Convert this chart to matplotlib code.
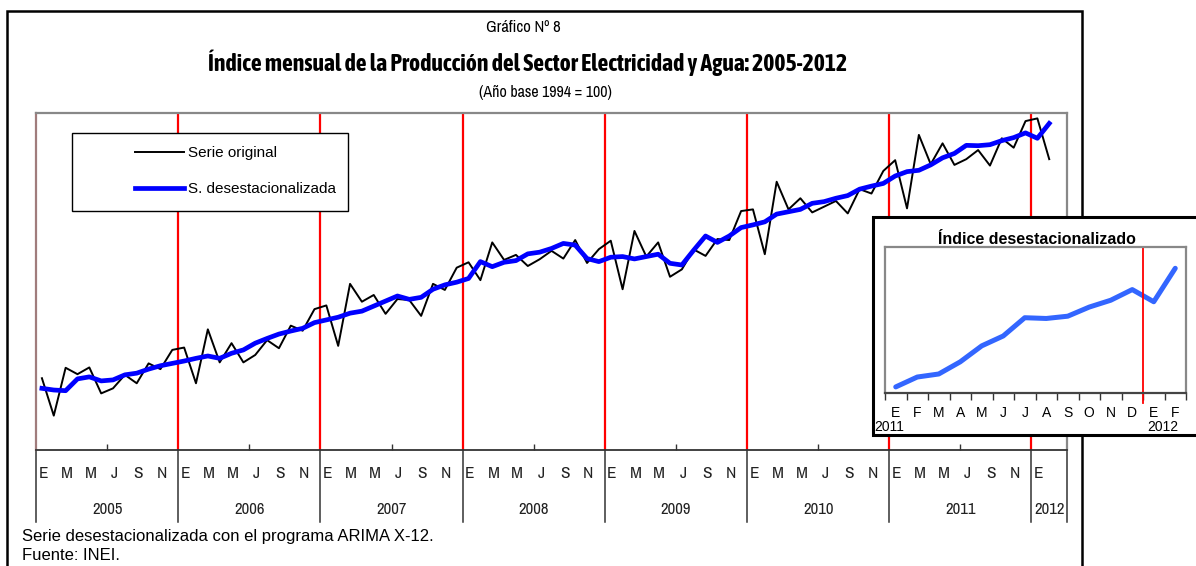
import matplotlib
matplotlib.use('Agg')
import matplotlib.pyplot as plt
from matplotlib.patches import Rectangle
from matplotlib.lines import Line2D
from matplotlib import font_manager
import matplotlib.transforms as mtransforms
import numpy as np

# indice mensual 2005-01 .. 2012-02
original = [151.3, 140.2, 154.4, 152.5, 154.5, 146.8, 148.3, 152.3, 149.8, 155.7, 154.0, 159.7,
            160.4, 149.8, 165.8, 156.0, 161.7, 156.0, 158.2, 162.6, 160.2, 166.9, 165.4, 171.8,
            172.9, 160.9, 179.3, 174.0, 176.0, 170.4, 174.8, 174.5, 169.8, 179.3, 177.5, 184.1,
            185.7, 180.4, 191.6, 186.4, 187.9, 184.6, 186.6, 189.1, 186.8, 192.3, 185.5, 189.6,
            192.1, 177.7, 195.0, 187.4, 191.6, 181.4, 183.6, 189.5, 187.6, 192.6, 192.3, 200.9,
            201.4, 188.1, 209.6, 201.4, 204.7, 200.5, 202.2, 203.9, 200.2, 207.4, 206.1, 212.8,
            216.0, 201.7, 223.5, 214.8, 221.0, 214.6, 216.3, 219.0, 214.4, 222.5, 219.7, 227.6,
            228.4, 216.3]
desest = [148.3, 147.8, 147.6, 151.1, 151.7, 150.5, 150.8, 152.3, 152.8, 154.0, 155.0, 155.7,
          156.4, 157.2, 157.9, 157.2, 158.7, 159.7, 161.7, 163.1, 164.4, 165.3, 166.1, 167.8,
          168.6, 169.4, 170.6, 171.2, 172.7, 174.2, 175.7, 174.7, 175.3, 177.7, 179.0, 179.8,
          180.9, 185.9, 184.4, 185.7, 186.2, 188.2, 188.7, 189.8, 191.3, 190.8, 186.8, 185.9,
          187.2, 187.4, 186.7, 187.4, 188.1, 185.4, 184.9, 189.3, 193.5, 191.6, 193.5, 196.0,
          196.8, 197.7, 200.0, 200.7, 201.4, 203.2, 203.7, 204.7, 205.5, 207.4, 208.3, 209.1,
          211.3, 212.6, 213.0, 214.6, 216.7, 218.0, 220.4, 220.3, 220.6, 221.8, 222.7, 224.1,
          222.5, 226.9]
years = ['2005', '2006', '2007', '2008', '2009', '2010', '2011', '2012']
month_labels = ['E', 'M', 'M', 'J', 'S', 'N']
inset_months = ['E', 'F', 'M', 'A', 'M', 'J', 'J', 'A', 'S', 'O', 'N', 'D', 'E', 'F']
inset_start = 72  # enero 2011

W, H = 1196, 566
ARIAL = ['Liberation Sans', 'DejaVu Sans']


def weight_of(f):
    w = f.weight
    if isinstance(w, str):
        w = font_manager.weight_dict.get(w, 400)
    return w


fonts = font_manager.fontManager.ttflist
narrow_names = sorted({f.name for f in fonts if 'Narrow' in f.name or 'Condensed' in f.name})
narrow_bold = sorted({f.name for f in fonts if f.name in narrow_names and weight_of(f) >= 600})
NARROW = narrow_names[:1] + ARIAL
if narrow_bold:
    TITLE_FONT, TITLE_SIZE = narrow_bold[:1] + ARIAL, 17
else:
    TITLE_FONT, TITLE_SIZE = ARIAL, 13


def box(l, t, r, b):
    return [l / W, 1 - b / H, (r - l) / W, (b - t) / H]


fig = plt.figure(figsize=(W / 100, H / 100), dpi=100)

# marco exterior
fig.patches.append(Rectangle((7 / W, -0.05), (1082 - 7) / W, 1.05 - 11 / H, transform=fig.transFigure,
                             fill=False, edgecolor='black', linewidth=1.8, zorder=1))

fig.text(523 / W, 1 - 28 / H, 'Gráfico Nº 8', family=NARROW, fontsize=12, ha='center', va='center')
fig.text(528 / W, 1 - 63 / H, 'Índice mensual de la Producción del Sector Electricidad y Agua: 2005-2012',
         family=TITLE_FONT, fontsize=TITLE_SIZE, fontweight='bold', ha='center', va='center')
fig.text(545 / W, 1 - 92 / H, '(Año base 1994 = 100)', family=NARROW, fontsize=11.5, ha='center', va='center')

ax = fig.add_axes(box(36, 113, 1067, 450))
x = np.arange(len(original))
n_cat = 87
ax.set_xlim(-0.5, n_cat - 0.5)
ax.set_ylim(130, 230)

for k in range(1, len(years)):
    ax.axvline(12 * k - 0.5, color='red', linewidth=1.6, zorder=1)

ax.plot(x, original, color='black', linewidth=1.4, zorder=3)
ax.plot(x, desest, color='#0000ff', linewidth=3.4, solid_joinstyle='round', zorder=4)

for side in ['top', 'right']:
    ax.spines[side].set_color('#888888')
    ax.spines[side].set_linewidth(1.6)
ax.spines['left'].set_color('#a07c7c')
ax.spines['left'].set_linewidth(1.6)
ax.spines['bottom'].set_color('#333333')
ax.spines['bottom'].set_linewidth(1.3)

ax.set_yticks([])
ax.set_xticks([12 * k + 5.5 for k in range(len(years) - 1)])
ax.tick_params(axis='x', direction='in', length=4, width=1, color='#333333', labelbottom=False)

trans = mtransforms.blended_transform_factory(ax.transData, ax.transAxes)
bounds = [12 * k - 0.5 for k in range(len(years))] + [n_cat - 0.5]
for b in bounds:
    ax.plot([b, b], [0, -(522 - 450) / 337], transform=trans, color='#333333', linewidth=1.1, clip_on=False)
for k, yr in enumerate(years):
    for j, m in enumerate(month_labels):
        i = 12 * k + 2 * j
        if i >= len(original):
            break
        ax.text(i + 0.1, -(473 - 450) / 337, m, transform=trans, family=NARROW, fontsize=12.5,
                ha='center', va='center', color='#222222')
    ax.text((bounds[k] + bounds[k + 1]) / 2, -(510 - 450) / 337, yr, transform=trans, family=NARROW,
            fontsize=12, ha='center', va='center', color='#222222')

# leyenda
ax.add_patch(Rectangle(((72 - 36) / 1031, (450 - 211) / 337), (348 - 72) / 1031, 78 / 337,
                       transform=ax.transAxes, fill=True, facecolor='white', edgecolor='black',
                       linewidth=1.0, zorder=5))
handles = [Line2D([], [], color='black', linewidth=1.4),
           Line2D([], [], color='#0000ff', linewidth=3.4)]
ax.legend(handles, ['Serie original', 'S. desestacionalizada'], loc='center left',
          bbox_to_anchor=((127 - 36) / 1031, (450 - 171) / 337), frameon=False, borderpad=0,
          handlelength=3.2, handletextpad=0.3, labelspacing=1.45, prop={'family': ARIAL, 'size': 11})
ax.get_legend().set_zorder(6)

fig.text(22 / W, 1 - 537 / H, 'Serie desestacionalizada con el programa ARIMA X-12.', family=ARIAL,
         fontsize=12, ha='left', va='center')
fig.text(22 / W, 1 - 556 / H, 'Fuente: INEI.', family=ARIAL, fontsize=12, ha='left', va='center')

# recuadro
fig.patches.append(Rectangle((873 / W, 1 - 435 / H), (1250 - 873) / W, (435 - 217) / H,
                             transform=fig.transFigure, facecolor='white', edgecolor='black',
                             linewidth=2.2, zorder=2))
fig.text(1037 / W, 1 - 239 / H, 'Índice desestacionalizado', family=ARIAL, fontsize=11.5,
         fontweight='bold', ha='center', va='center', zorder=3)

iax = fig.add_axes(box(885, 247, 1186, 393))
iax.set_zorder(3)
ix = np.arange(len(inset_months))
iax.plot(ix, desest[inset_start:inset_start + len(inset_months)], color='#3366ff', linewidth=3.6,
         solid_capstyle='round', solid_joinstyle='round')
iax.set_xlim(-0.5, len(inset_months) - 0.5)
iax.set_ylim(210.5, 229.7)
iax.axvline(11.5, ymin=-(403 - 393) / 146, ymax=1, color='red', linewidth=1.3, clip_on=False)
for s in iax.spines.values():
    s.set_color('#888888')
    s.set_linewidth(1.6)
iax.spines['bottom'].set_color('#444444')
iax.set_yticks([])
iax.set_xticks(np.arange(len(inset_months) + 1) - 0.5)
iax.set_xticklabels([])
iax.tick_params(axis='x', direction='out', length=5, width=1, color='#333333')
itrans = mtransforms.blended_transform_factory(iax.transData, iax.transAxes)
for i, m in enumerate(inset_months):
    iax.text(i, -(413 - 393) / 146, m, transform=itrans, family=ARIAL, fontsize=10,
             ha='center', va='center')
iax.text(-0.3, -(427 - 393) / 146, '2011', transform=itrans, family=ARIAL, fontsize=10,
         ha='center', va='center')
iax.text(12.4, -(427 - 393) / 146, '2012', transform=itrans, family=ARIAL, fontsize=10,
         ha='center', va='center')

plt.savefig('out.png', dpi=100)
